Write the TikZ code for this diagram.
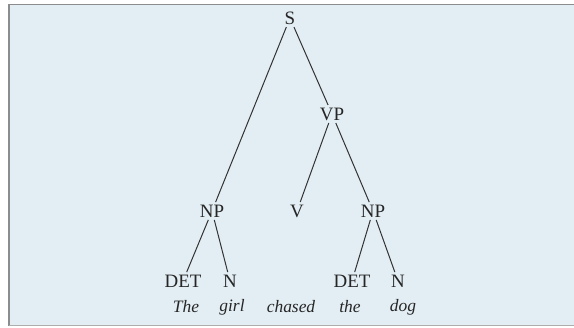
\documentclass[tikz,border=0pt]{standalone}
\usepackage{fontspec}
\setmainfont{Liberation Serif}
\begin{document}
\begin{tikzpicture}[x=1bp,y=-1bp,
  cat/.style={font=\fontsize{19}{21}\selectfont,inner sep=2.5bp,text=black!85},
  word/.style={font=\fontsize{17.5}{20}\selectfont\itshape,inner sep=0pt,text=black!85},
  branch/.style={line width=1bp,draw=black!80}]
\definecolor{panelblue}{HTML}{E3EEF4}
\definecolor{rulegray}{HTML}{8C8C8C}
\useasboundingbox (0,0) rectangle (574,327);
% panel with its ruled top, left and bottom edges
\fill[panelblue] (9,4.5) rectangle (574,325.5);
\draw[rulegray,line width=1.4bp] (574,4.5) -- (9,4.5) -- (9,325.5);
\draw[rulegray!70,line width=1bp] (9,325.5) -- (574,325.5);
% categories
\node[cat] (S)   at (290,18)  {S};
\node[cat] (VP)  at (332,114) {VP};
\node[cat] (NPa) at (212,211) {NP};
\node[cat] (V)   at (297,211) {V};
\node[cat] (NPb) at (373,211) {NP};
\node[cat] (DETa) at (183,281) {DET};
\node[cat] (Na)   at (230,281) {N};
\node[cat] (DETb) at (352,281) {DET};
\node[cat] (Nb)   at (398,281) {N};
% the sentence
\node[word] (w1) at (186,307) {The};
\node[word] (w2) at (232,307) {girl};
\node[word] (w3) at (291,307) {chased};
\node[word] (w4) at (350,307) {the};
\node[word] (w5) at (403,307) {dog};
% branches
\draw[branch] (S) -- (NPa);
\draw[branch] (S) -- (VP);
\draw[branch] (VP) -- (V);
\draw[branch] (VP) -- (NPb);
\draw[branch] (NPa) -- (DETa);
\draw[branch] (NPa) -- (Na);
\draw[branch] (NPb) -- (DETb);
\draw[branch] (NPb) -- (Nb);
\end{tikzpicture}
\end{document}
